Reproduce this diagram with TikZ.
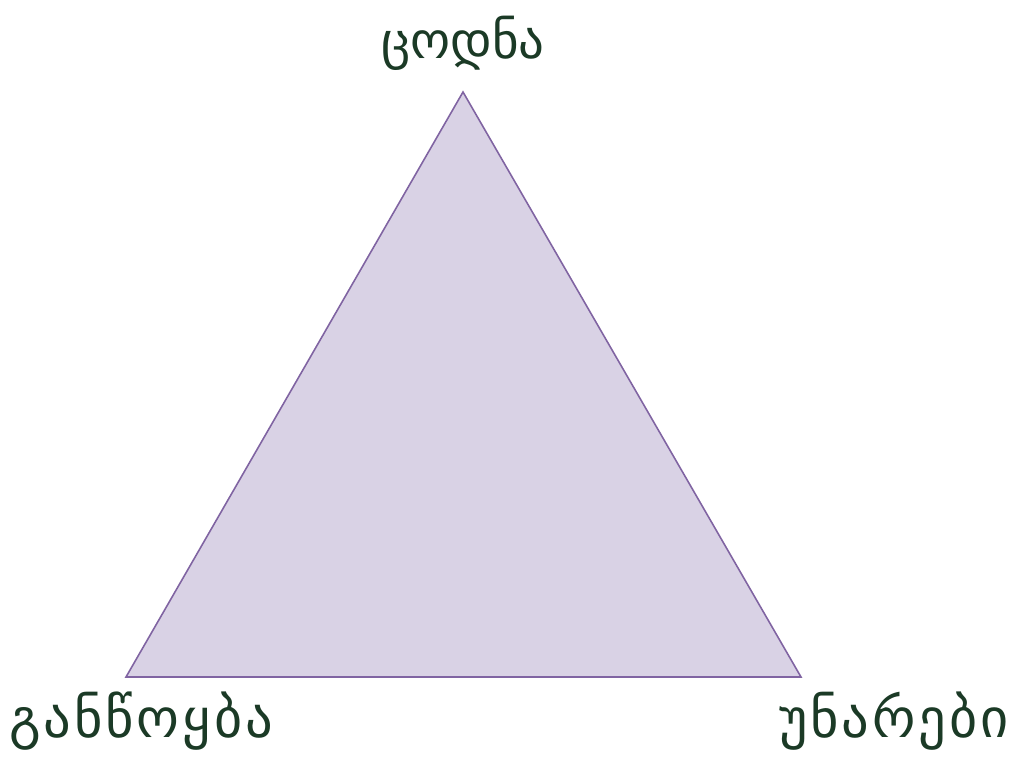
\documentclass[tikz,border=0pt]{standalone}
\usepackage{fontspec}
\newfontfamily\geofont{DejaVu Sans}
\newfontfamily\geowide[LetterSpace=5.5]{DejaVu Sans}
\usetikzlibrary{positioning}
\definecolor{lilacfill}{HTML}{D9D2E5}
\definecolor{lilacline}{HTML}{8064A2}
\definecolor{darkgreen}{HTML}{1B3A26}

\begin{document}
\begin{tikzpicture}[
        x=0.02cm, y=-0.02cm,
        corner/.style={font=\geofont\fontsize{29}{34}\selectfont, text=darkgreen, inner sep=0pt},
        widecorner/.style={corner, font=\geowide\fontsize{31}{36}\selectfont},
        side/.style={draw=lilacline, fill=lilacfill, line width=0.9pt, line join=miter}
    ]
    \useasboundingbox (0,0) rectangle (1018,758);

    % corners of the triangle
    \coordinate (top) at (463,92);
    \coordinate (left) at (126,677);
    \coordinate (right) at (801,677);
    \filldraw[side] (top) -- (left) -- (right) -- cycle;

    % labels
    \node[corner] (knowledge) at (463,43) {ცოდნა};
    \node[widecorner] (attitude) at (141,721) {განწოყბა};
    \node[widecorner] (skills) at (894,721) {უნარები};
\end{tikzpicture}
\end{document}
